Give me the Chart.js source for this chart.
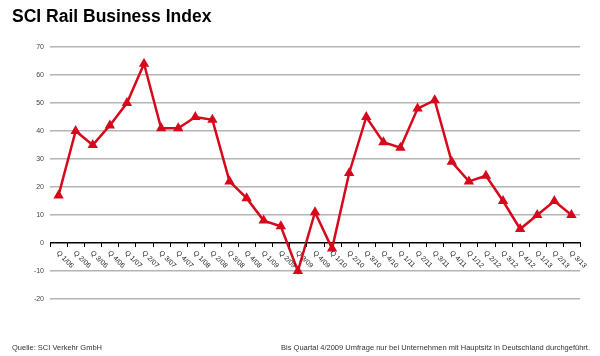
<!DOCTYPE html>
<html>
<head>
<meta charset="utf-8">
<script src="https://cdn.jsdelivr.net/npm/chart.js@4/dist/chart.umd.min.js"></script>
<style>
html,body{margin:0;padding:0;background:#fff;}
#wrap{width:600px;height:356px;position:relative;}
</style>
</head>
<body>
<div id="wrap"><canvas id="c" width="600" height="356"></canvas></div>
<script>
const titleText = "SCI Rail Business Index";
const sourceText = "Quelle: SCI Verkehr GmbH";
const noteText = "Bis Quartal 4/2009 Umfrage nur bei Unternehmen mit Hauptsitz in Deutschland durchgeführt.";
const quarters = [
  "Q 1/06","Q 2/06","Q 3/06","Q 4/06",
  "Q 1/07","Q 2/07","Q 3/07","Q 4/07",
  "Q 1/08","Q 2/08","Q 3/08","Q 4/08",
  "Q 1/09","Q 2/09","Q 3/09","Q 4/09",
  "Q 1/10","Q 2/10","Q 3/10","Q 4/10",
  "Q 1/11","Q 2/11","Q 3/11","Q 4/11",
  "Q 1/12","Q 2/12","Q 3/12","Q 4/12",
  "Q 1/13","Q 2/13","Q 3/13"
];
const indexValues = [
  17, 40, 35, 42,
  50, 64, 41, 41,
  45, 44, 22, 16,
  8, 6, -10, 11,
  -2, 25, 45, 36,
  34, 48, 51, 29,
  22, 24, 15, 5,
  10, 15, 10
];
const yTicks = [-20, -10, 0, 10, 20, 30, 40, 50, 60, 70];

const RED = '#d7081c';
const FONT = '"Liberation Sans", Arial, sans-serif';

const decor = {
  id: 'decor',
  afterDatasetsDraw(chart) {
    const ctx = chart.ctx;
    const x = chart.scales.x, y = chart.scales.y;
    const y0 = y.getPixelForValue(0);
    const half = (x.getPixelForValue(1) - x.getPixelForValue(0)) / 2;
    ctx.save();
    ctx.strokeStyle = '#000';
    ctx.lineWidth = 1;
    for (let i = 0; i <= quarters.length; i++) {
      const px = Math.round((i < quarters.length ? x.getPixelForValue(i) - half : x.getPixelForValue(i - 1) + half)) + 0.5;
      ctx.beginPath();
      ctx.moveTo(px, y0 - 1);
      ctx.lineTo(px, y0 + 4);
      ctx.stroke();
    }
    ctx.fillStyle = '#222';
    ctx.font = '7px ' + FONT;
    ctx.textAlign = 'left';
    ctx.textBaseline = 'middle';
    quarters.forEach((q, i) => {
      const px = x.getPixelForValue(i);
      ctx.save();
      ctx.translate(px - 1, y0 + 9);
      ctx.rotate(Math.PI / 4);
      ctx.fillText(q, 0, 0);
      ctx.restore();
    });
    ctx.font = '7.5px ' + FONT;
    ctx.fillStyle = '#333';
    ctx.textBaseline = 'alphabetic';
    ctx.textAlign = 'left';
    ctx.fillText(sourceText, 12, 350);
    ctx.textAlign = 'right';
    ctx.fillText(noteText, 590, 350);
    ctx.restore();
  }
};

new Chart(document.getElementById('c'), {
  type: 'line',
  data: {
    labels: quarters,
    datasets: [{
      data: indexValues,
      borderColor: RED,
      backgroundColor: RED,
      borderWidth: 2.5,
      pointStyle: 'triangle',
      pointRadius: 3.5,
      pointHoverRadius: 3.5,
      tension: 0,
      clip: false
    }]
  },
  options: {
    responsive: false,
    animation: false,
    events: [],
    layout: { padding: { left: 12, right: 20, top: 0, bottom: 57 } },
    plugins: {
      legend: { display: false },
      tooltip: { enabled: false },
      title: {
        display: true,
        text: titleText,
        align: 'start',
        color: '#000',
        font: { family: FONT, size: 17.5, weight: 'bold' },
        padding: { top: 7, bottom: 19 }
      }
    },
    scales: {
      x: {
        display: false,
        offset: true
      },
      y: {
        min: -20,
        max: 70,
        afterBuildTicks(scale) { scale.ticks = yTicks.map(v => ({ value: v })); },
        afterFit(scale) { scale.width = 38; },
        border: { display: false },
        grid: {
          drawTicks: false,
          lineWidth: 1.5,
          color: ctx => ctx.tick && ctx.tick.value === 0 ? '#000' : '#b4b4b4'
        },
        ticks: {
          padding: 6,
          color: '#444',
          font: { family: FONT, size: 7 },
          callback: v => String(v)
        }
      }
    }
  },
  plugins: [decor]
});
</script>
</body>
</html>
